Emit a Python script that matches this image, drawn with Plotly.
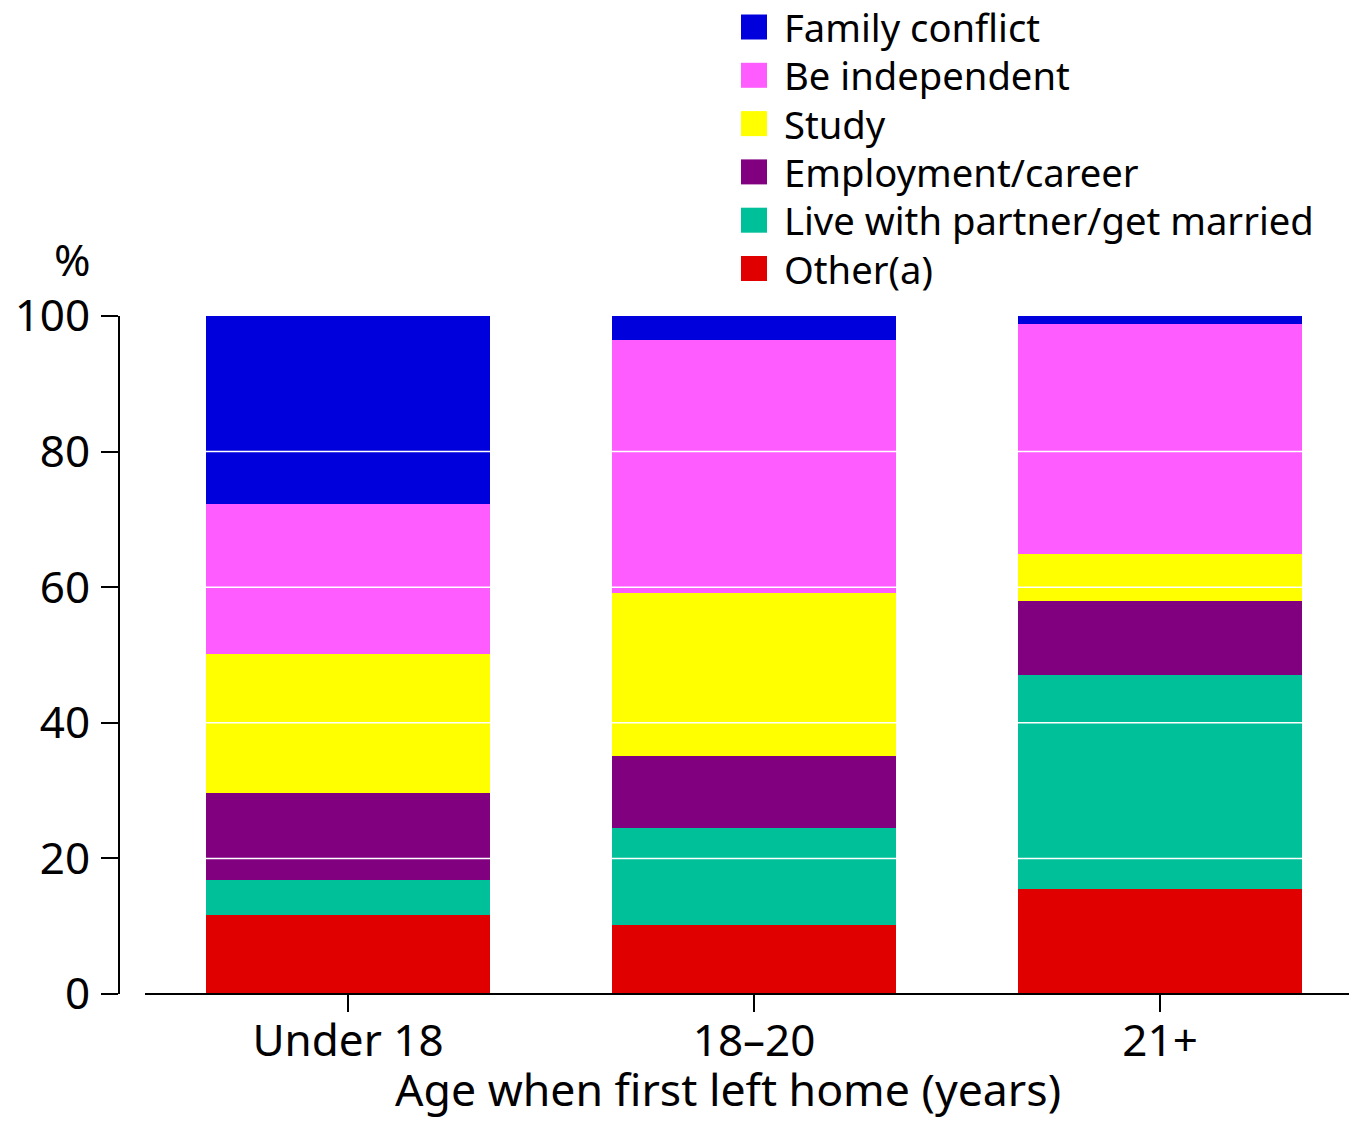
import plotly.graph_objects as go

# ---- data ----
categories = ["Under 18", "18–20", "21+"]
series_names = ["Other(a)", "Live with partner/get married", "Employment/career",
                "Study", "Be independent", "Family conflict"]
other = [11.7, 10.2, 15.5]
partner = [5.1, 14.3, 31.5]
employment = [12.8, 10.6, 11.0]
study = [20.5, 24.0, 6.9]
independent = [22.2, 37.4, 33.9]
family = [27.7, 3.5, 1.2]
series_values = [other, partner, employment, study, independent, family]
colors = ["#E00000", "#00C09A", "#800080", "#FFFF00", "#FF5CFF", "#0000DD"]
y_ticks = [0, 20, 40, 60, 80, 100]
grid_values = [20, 40, 60, 80]

FONT = "Noto Sans"
OFF = 8  # page body margin
W, H = 1357 - OFF, 1124 - OFF
ML, MT = 120 - OFF, 316 - OFF
MR = W - (1327 - OFF)
MB = H - (994 - OFF)
PW, PH = W - ML - MR, H - MT - MB


def px_x(x):
    return (x - OFF - ML) / PW


def px_y(y):
    return (H - MB - (y - OFF)) / PH


fig = go.Figure()
xpos = list(range(len(categories)))
for name, vals, col in zip(series_names, series_values, colors):
    fig.add_trace(go.Bar(x=xpos, y=vals, name=name, marker=dict(color=col, line=dict(width=0)),
                         width=0.70, showlegend=False))

shapes = []
# white gridlines over bars
for g in grid_values:
    shapes.append(dict(type="line", xref="paper", yref="y", x0=0, x1=1, y0=g, y1=g,
                       line=dict(color="white", width=1.5), layer="above"))
# detached x axis line
shapes.append(dict(type="line", xref="paper", yref="paper", x0=px_x(145), x1=px_x(1357), y0=0, y1=0,
                   line=dict(color="black", width=2), layer="above"))

annotations = []
# manual legend (top to bottom)
leg_names = list(reversed(series_names))
leg_colors = list(reversed(colors))
for i, (n, c) in enumerate(zip(leg_names, leg_colors)):
    cy = 27 + 48.3 * i
    shapes.append(dict(type="rect", xref="paper", yref="paper",
                       x0=px_x(741), x1=px_x(767), y0=px_y(cy + 12.5), y1=px_y(cy - 12.5),
                       fillcolor=c, line=dict(width=0)))
    annotations.append(dict(text=n, xref="paper", yref="paper", x=px_x(782), y=px_y(cy),
                            xanchor="left", yanchor="middle", showarrow=False,
                            font=dict(family=FONT, size=38.2, color="black")))

annotations.append(dict(text="%", xref="paper", yref="paper", x=px_x(72), y=px_y(259),
                        xanchor="center", yanchor="middle", showarrow=False,
                        font=dict(family=FONT, size=44, color="black")))
annotations.append(dict(text="Age when first left home (years)", xref="paper", yref="paper",
                        x=px_x(727.5), y=px_y(1088), xanchor="center", yanchor="middle",
                        showarrow=False, font=dict(family=FONT, size=44.6, color="black")))

fig.update_layout(
    template="none",
    width=W, height=H, barmode="stack",
    margin=dict(l=ML, r=MR, t=MT, b=MB, pad=0, autoexpand=False),
    paper_bgcolor="white", plot_bgcolor="white",
    font=dict(family=FONT, color="black"),
    shapes=shapes, annotations=annotations,
    xaxis=dict(range=[-0.5616, 2.411], tickvals=xpos, ticktext=categories,
               automargin=False,
               showline=False, showgrid=False, zeroline=False,
               ticks="outside", ticklen=17, tickwidth=2, tickcolor="black",
               ticklabelstandoff=-9,
               tickfont=dict(family=FONT, size=44, color="black")),
    yaxis=dict(range=[0, 100], tickvals=y_ticks, showgrid=False, zeroline=False,
               automargin=False,
               showline=True, linecolor="black", linewidth=2,
               ticks="outside", ticklen=17, tickwidth=2, tickcolor="black",
               ticklabelstandoff=2,
               tickfont=dict(family=FONT, size=44, color="black")),
)

fig.write_html("out.html")
